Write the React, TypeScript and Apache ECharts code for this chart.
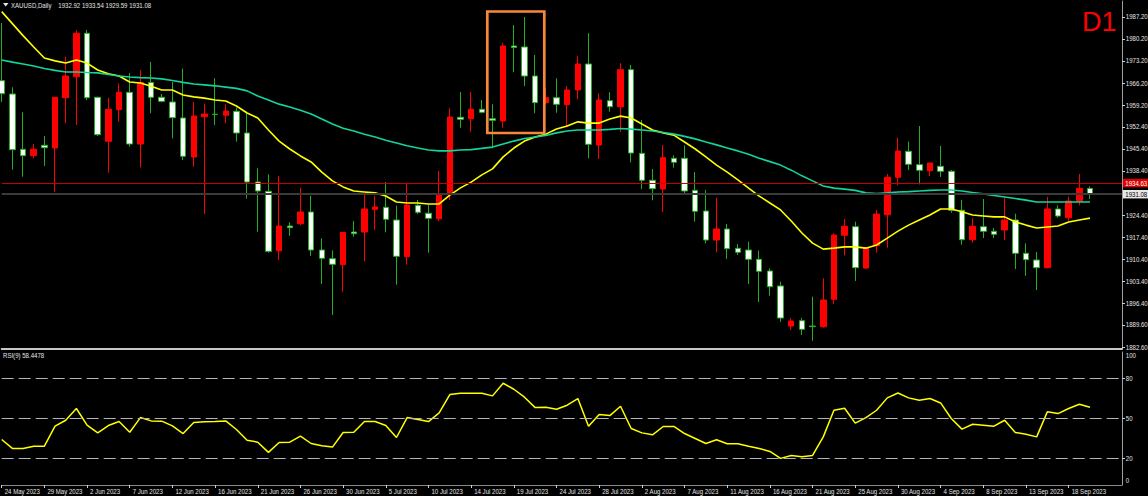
import React, { useEffect, useRef } from "react";
import * as echarts from "echarts";

const dates = [
  "24 May 2023","25 May 2023","26 May 2023","28 May 2023","29 May 2023","30 May 2023","31 May 2023","1 Jun 2023","2 Jun 2023","4 Jun 2023",
  "5 Jun 2023","6 Jun 2023","7 Jun 2023","8 Jun 2023","9 Jun 2023","11 Jun 2023","12 Jun 2023","13 Jun 2023","14 Jun 2023","15 Jun 2023",
  "16 Jun 2023","18 Jun 2023","19 Jun 2023","20 Jun 2023","21 Jun 2023","22 Jun 2023","23 Jun 2023","25 Jun 2023","26 Jun 2023","27 Jun 2023",
  "28 Jun 2023","29 Jun 2023","30 Jun 2023","2 Jul 2023","3 Jul 2023","4 Jul 2023","5 Jul 2023","6 Jul 2023","7 Jul 2023","9 Jul 2023",
  "10 Jul 2023","11 Jul 2023","12 Jul 2023","13 Jul 2023","14 Jul 2023","16 Jul 2023","17 Jul 2023","18 Jul 2023","19 Jul 2023","20 Jul 2023",
  "21 Jul 2023","23 Jul 2023","24 Jul 2023","25 Jul 2023","26 Jul 2023","27 Jul 2023","28 Jul 2023","30 Jul 2023","31 Jul 2023","1 Aug 2023",
  "2 Aug 2023","3 Aug 2023","4 Aug 2023","6 Aug 2023","7 Aug 2023","8 Aug 2023","9 Aug 2023","10 Aug 2023","11 Aug 2023","13 Aug 2023",
  "14 Aug 2023","15 Aug 2023","16 Aug 2023","17 Aug 2023","18 Aug 2023","20 Aug 2023","21 Aug 2023","22 Aug 2023","23 Aug 2023","24 Aug 2023",
  "25 Aug 2023","27 Aug 2023","28 Aug 2023","29 Aug 2023","30 Aug 2023","31 Aug 2023","1 Sep 2023","3 Sep 2023","4 Sep 2023","5 Sep 2023",
  "6 Sep 2023","7 Sep 2023","8 Sep 2023","10 Sep 2023","11 Sep 2023","12 Sep 2023","13 Sep 2023","14 Sep 2023","15 Sep 2023","17 Sep 2023",
  "18 Sep 2023","19 Sep 2023","20 Sep 2023","21 Sep 2023","22 Sep 2023","24 Sep 2023"
];
const barCount = 103;

const openPrices = [
  1967.03,1962.81,1945.30,1943.28,1946.57,1945.71,1961.64,1968.29,1982.04,1961.77,
  1947.84,1957.84,1963.35,1946.98,1966.46,1961.77,1960.28,1955.22,1942.86,1955.63,
  1956.40,1956.07,1957.34,1950.46,1934.95,1932.00,1913.19,1921.01,1921.74,1925.45,
  1913.42,1910.66,1908.76,1919.11,1919.11,1926.30,1926.94,1922.92,1911.29,1927.57,
  1925.04,1923.33,1931.05,1955.44,1954.99,1957.97,1954.99,1954.27,1978.01,1977.70,
  1968.51,1960.06,1961.64,1959.43,1964.08,1972.31,1946.67,1960.69,1958.79,1970.51,
  1944.04,1935.49,1932.73,1942.45,1942.45,1932.32,1925.77,1916.58,1920.07,1913.95,
  1913.42,1910.47,1906.77,1902.02,1889.35,1891.03,1889.35,1889.13,1897.80,1918.07,
  1920.79,1907.72,1914.78,1924.59,1936.44,1944.67,1940.43,1938.53,1939.92,1938.34,
  1925.99,1916.68,1920.79,1919.34,1919.75,1922.91,1912.37,1910.25,1907.81,1926.40,
  1923.64,1928.84,1932.92
];
const closePrices = [
  1962.91,1945.18,1943.28,1945.30,1945.81,1961.77,1968.51,1982.04,1961.64,1949.93,
  1957.97,1963.35,1946.98,1966.46,1961.77,1960.50,1955.31,1943.09,1955.85,1956.48,
  1956.30,1957.43,1950.46,1934.95,1932.10,1913.00,1921.01,1920.48,1925.45,1913.42,
  1910.79,1908.89,1919.02,1918.58,1926.40,1927.03,1923.14,1911.42,1927.66,1925.35,
  1923.45,1931.05,1955.53,1954.80,1957.97,1957.02,1954.49,1978.01,1977.54,1968.51,
  1960.06,1961.64,1959.55,1964.08,1972.31,1946.89,1960.91,1958.79,1970.51,1944.13,
  1935.49,1932.83,1942.64,1941.19,1932.10,1925.67,1916.58,1920.07,1913.83,1912.69,
  1910.47,1906.67,1901.79,1891.88,1890.93,1888.30,1889.16,1897.58,1918.16,1920.92,
  1907.81,1914.14,1924.81,1936.44,1944.76,1940.55,1938.65,1940.96,1938.34,1925.99,
  1916.68,1920.92,1919.34,1918.39,1922.91,1912.37,1910.34,1907.81,1926.40,1924.18,
  1928.93,1932.95,1931.08
];
const lowPrices = [
  1960.28,1938.84,1936.63,1942.45,1940.02,1931.88,1953.54,1953.00,1960.91,1949.51,
  1937.89,1954.04,1946.13,1939.60,1956.70,1960.19,1948.79,1941.91,1939.79,1924.81,
  1953.00,1953.54,1947.71,1929.66,1919.21,1912.56,1910.25,1917.94,1921.24,1911.52,
  1902.65,1892.83,1900.21,1917.62,1909.84,1919.74,1919.02,1902.43,1908.76,1924.81,
  1912.56,1922.50,1929.25,1952.14,1950.88,1956.70,1945.62,1952.14,1969.69,1965.35,
  1956.70,1959.65,1956.89,1952.68,1961.14,1942.45,1942.23,1957.21,1950.78,1941.19,
  1932.73,1929.15,1925.45,1939.48,1931.15,1922.38,1915.54,1912.69,1910.56,1911.83,
  1902.65,1896.95,1898.95,1890.62,1888.08,1886.49,1884.69,1888.81,1896.32,1911.74,
  1903.60,1907.40,1912.56,1914.14,1933.90,1938.75,1934.22,1936.85,1936.53,1925.23,
  1915.09,1915.73,1917.21,1917.21,1916.58,1907.40,1905.28,1900.75,1907.62,1923.64,
  1922.69,1927.57,1929.59
];
const highPrices = [
  1985.30,1964.94,1957.02,1946.98,1949.51,1961.86,1974.63,1983.08,1983.08,1961.96,
  1961.64,1966.14,1969.46,1970.41,1972.95,1962.81,1966.61,1970.89,1960.28,1959.81,
  1967.79,1959.55,1958.48,1957.21,1939.29,1937.39,1936.85,1922.19,1933.14,1930.61,
  1917.12,1913.32,1919.11,1922.60,1930.93,1930.61,1934.95,1927.44,1934.54,1929.25,
  1927.89,1938.43,1958.29,1963.45,1963.45,1960.91,1959.55,1979.00,1984.66,1987.20,
  1975.16,1964.62,1967.79,1965.35,1974.94,1982.04,1963.03,1963.35,1972.54,1972.00,
  1954.58,1939.07,1946.67,1943.40,1946.57,1938.11,1932.41,1929.97,1921.65,1915.31,
  1916.04,1913.19,1907.62,1903.38,1891.88,1891.88,1898.63,1904.45,1918.70,1923.23,
  1922.38,1914.46,1926.08,1937.48,1948.98,1947.71,1952.68,1940.96,1946.35,1938.75,
  1929.25,1923.45,1929.57,1920.38,1930.10,1924.91,1915.54,1912.78,1930.20,1927.57,
  1930.29,1937.48,1933.54
];

// Moving averages (fast = yellow, slow = teal)
const maFast = [
  1988.9,1985.1,1981.3,1977.7,1974.2,1973.3,1972.6,1973.6,1972.6,1970.4,
  1969.2,1968.5,1966.6,1966.3,1965.3,1964.1,1964.1,1962.5,1961.9,1961.5,
  1960.9,1960.6,1959.0,1956.8,1955.2,1951.4,1947.9,1945.4,1943.2,1941.3,
  1938.1,1935.3,1933.4,1932.1,1931.8,1931.5,1930.5,1928.6,1928.3,1928.3,
  1928.0,1928.0,1930.8,1933.1,1934.9,1937.2,1939.1,1942.9,1945.7,1947.9,
  1949.2,1950.1,1951.7,1952.7,1954.0,1953.6,1953.6,1954.9,1955.8,1955.2,
  1953.3,1951.4,1950.5,1949.8,1947.6,1945.4,1942.9,1940.3,1938.1,1935.6,
  1933.0,1930.5,1928.3,1926.1,1922.6,1918.8,1915.6,1913.7,1914.0,1914.4,
  1914.4,1914.0,1915.0,1917.2,1919.4,1921.3,1922.9,1924.5,1926.4,1926.4,
  1925.5,1924.5,1924.2,1923.9,1923.9,1922.3,1921.3,1920.4,1920.7,1921.0,
  1922.3,1922.9,1923.5
];
const maSlow = [
  1973.6,1972.9,1972.3,1971.7,1970.9,1970.3,1969.8,1969.8,1969.6,1969.5,
  1969.0,1968.5,1968.2,1968.0,1967.9,1967.6,1967.1,1966.5,1966.0,1965.7,
  1965.4,1965.0,1964.6,1963.8,1962.2,1960.9,1959.6,1958.7,1957.7,1956.5,
  1954.9,1953.3,1952.0,1951.1,1950.1,1949.2,1948.2,1947.3,1946.4,1945.7,
  1945.1,1944.8,1944.8,1945.1,1945.2,1945.6,1946.0,1947.0,1947.9,1948.7,
  1949.2,1949.7,1950.5,1951.1,1951.4,1951.4,1951.4,1951.6,1951.9,1951.7,
  1951.4,1951.1,1950.6,1950.1,1949.4,1948.6,1947.6,1946.7,1945.7,1944.8,
  1943.7,1942.5,1941.4,1940.3,1938.7,1936.9,1935.3,1933.7,1933.0,1932.7,
  1932.3,1931.5,1931.3,1931.5,1931.8,1931.9,1932.1,1932.3,1932.4,1932.4,
  1932.1,1931.6,1931.2,1930.7,1930.2,1929.7,1929.2,1928.6,1928.6,1928.6,
  1928.6,1928.6,1928.6
];
const rsiValues = [
  34.2,27.5,27.5,29.2,29.2,44.2,48.7,57.5,45.0,39.2,
  44.7,47.7,39.7,50.7,48.2,48.0,44.5,38.7,47.0,47.5,
  47.7,48.2,41.7,33.7,32.2,24.5,32.0,32.2,36.7,31.2,
  29.5,28.5,39.5,39.7,47.7,47.7,44.7,35.7,50.7,49.2,
  47.7,54.2,68.0,69.0,69.0,69.0,67.0,76.5,72.0,66.0,
  58.2,58.5,57.0,60.0,65.0,44.2,53.0,52.2,59.2,42.5,
  39.2,37.7,44.0,44.0,38.7,35.0,31.2,34.0,31.0,31.0,
  29.2,27.5,25.2,20.0,22.2,21.2,22.2,36.2,56.2,57.7,
  46.5,50.7,56.2,65.5,69.2,65.5,63.7,65.0,61.7,50.0,
  42.0,45.7,45.0,44.2,48.7,39.5,38.2,36.2,55.0,53.7,
  57.5,60.7,58.4
];

const priceTicks = [1987.2, 1980.2, 1973.2, 1966.2, 1959.2, 1952.4, 1945.4, 1938.4, 1924.4, 1917.4, 1910.4, 1903.4, 1896.4, 1889.6, 1882.6];
const rsiLevels = [20, 50, 80];
const rsiTickValues = [3, 20, 50, 80, 97];
const rsiTickLabels = ["0", "20", "50", "80", "100"];
const bidPrice = 1931.08;
const linePrice = 1934.63;
const rsiLast = "58.4478";

const FONT = "'Liberation Sans', Arial, sans-serif";
const TXT = "#e4e4e4";
const SX = 0.76; // horizontal squeeze to mimic the narrow terminal font
const smallText = (text: string, x: number, y: number, fill = TXT) => ({
  type: "text", x, y, scaleX: SX, silent: true, z: 20,
  style: { text, fill, font: `8px ${FONT}`, verticalAlign: "middle", align: "left" },
});

export default function App() {
  const ref = useRef<HTMLDivElement>(null);
  useEffect(() => {
    const chart = echarts.init(ref.current as HTMLDivElement, null, { renderer: "svg" });
    const candles = openPrices.map((o, i) => [o, closePrices[i], lowPrices[i], highPrices[i]]);
    const showIdx = (i: number) => i % 4 === 0 && i <= 100;
    const last = barCount - 1;
    const option: any = {
      animation: false,
      backgroundColor: "#000000",
      grid: [
        { left: 1.7, right: 26, top: 1, height: 348 },
        { left: 1.7, right: 26, top: 352, height: 133 },
      ],
      xAxis: [
        {
          type: "category", gridIndex: 0, data: dates, boundaryGap: false,
          axisLine: { show: true, lineStyle: { color: "#c8c8c8", width: 2 } },
          axisTick: { show: false }, axisLabel: { show: false }, splitLine: { show: false },
        },
        {
          type: "category", gridIndex: 1, data: dates, boundaryGap: false,
          axisLine: { show: true, lineStyle: { color: "#8a8a8a", width: 1 } },
          axisTick: { show: true, interval: (i: number) => showIdx(i), length: 3, lineStyle: { color: "#d0d0d0" } },
          axisLabel: { show: false },
          splitLine: { show: false },
        },
      ],
      yAxis: [
        {
          type: "value", gridIndex: 0, position: "right", min: 1882.07, max: 1992.26, scale: true,
          axisLine: { show: true, lineStyle: { color: "#a0a0a0" } },
          axisTick: { show: true, length: 3, customValues: priceTicks, lineStyle: { color: "#d0d0d0" } },
          axisLabel: { show: false },
          splitLine: { show: false },
        },
        {
          type: "value", gridIndex: 1, position: "right", min: 0, max: 100,
          axisLine: { show: true, lineStyle: { color: "#a0a0a0" } },
          axisTick: { show: true, length: 3, customValues: rsiLevels, lineStyle: { color: "#d0d0d0" } },
          axisLabel: { show: false },
          splitLine: { show: false },
        },
      ],
      series: [
        {
          type: "line", xAxisIndex: 0, yAxisIndex: 0, data: [], z: 1, silent: true,
          markLine: {
            silent: true, symbol: "none", animation: false, label: { show: false },
            data: [
              { yAxis: linePrice, lineStyle: { color: "#c40000", width: 1, type: "solid" } },
              { yAxis: bidPrice, lineStyle: { color: "#3a3a3a", width: 2, type: "solid" } },
            ],
          },
        },
        {
          type: "candlestick", xAxisIndex: 0, yAxisIndex: 0, data: candles, barWidth: 6, z: 3,
          itemStyle: { color: "#ff0000", color0: "#ffffff", borderColor: "#ff0000", borderColor0: "#22b022", borderWidth: 1 },
        },
        {
          type: "line", xAxisIndex: 0, yAxisIndex: 0, data: maFast, showSymbol: false, z: 4,
          lineStyle: { color: "#ffff00", width: 1.6 },
        },
        {
          type: "line", xAxisIndex: 0, yAxisIndex: 0, data: maSlow, showSymbol: false, z: 4,
          lineStyle: { color: "#12d49c", width: 1.6 },
        },
        {
          type: "line", xAxisIndex: 1, yAxisIndex: 1, data: rsiValues, showSymbol: false, z: 4,
          lineStyle: { color: "#ffff00", width: 1.5 },
          markLine: {
            silent: true, symbol: "none", animation: false, label: { show: false },
            lineStyle: { color: "#b4b4b4", width: 1, type: [12, 5] },
            data: rsiLevels.map((v) => ({ yAxis: v })),
          },
        },
      ],
    };
    chart.setOption(option);

    const graphics: any[] = [
      { type: "polygon", shape: { points: [[3, 3], [8.5, 3], [5.75, 6.5]] }, style: { fill: "#e8e8e8" } },
      smallText("XAUUSD,Daily", 11, 5.5),
      smallText(`${openPrices[last].toFixed(2)} ${highPrices[last].toFixed(2)} ${lowPrices[last].toFixed(2)} ${closePrices[last].toFixed(2)}`, 58.3, 5.5),
      { type: "text", x: 1082, y: 21.5, style: { text: "D1", fill: "#ff0000", font: `27px ${FONT}`, verticalAlign: "middle" } },
      smallText(`RSI(9) ${rsiLast}`, 3, 356),
      { type: "rect", shape: { x: 487.3, y: 11.5, width: 57, height: 121.5 }, style: { fill: "none", stroke: "#f5883a", lineWidth: 2.7 }, z: 10 },
    ];
    dates.forEach((d, i) => {
      if (!showIdx(i)) return;
      const px = chart.convertToPixel({ xAxisIndex: 1 }, i) as number;
      graphics.push(smallText(d, px + 3, 491.5));
    });
    priceTicks.forEach((v) => {
      const py = chart.convertToPixel({ yAxisIndex: 0 }, v) as number;
      graphics.push(smallText(v.toFixed(2), 1125.8, py));
    });
    rsiTickValues.forEach((v, i) => {
      const py = chart.convertToPixel({ yAxisIndex: 1 }, v) as number;
      graphics.push(smallText(rsiTickLabels[i], 1125.8, py));
    });
    const boxes: [number, string, string][] = [
      [linePrice, "#e00000", "#ffffff"],
      [bidPrice, "#e8e8e8", "#000000"],
    ];
    boxes.forEach(([v, bg, fg]) => {
      const py = chart.convertToPixel({ yAxisIndex: 0 }, v) as number;
      graphics.push({ type: "rect", shape: { x: 1123, y: py - 4.2, width: 25, height: 8.4 }, style: { fill: bg }, z: 19, silent: true });
      graphics.push(smallText(v.toFixed(2), 1125.3, py + 0.3, fg));
    });
    chart.setOption({ graphic: graphics });
    return () => chart.dispose();
  }, []);
  return <div ref={ref} style={{ position: "absolute", left: 0, top: 0, width: 1148, height: 496, background: "#000" }} />;
}
